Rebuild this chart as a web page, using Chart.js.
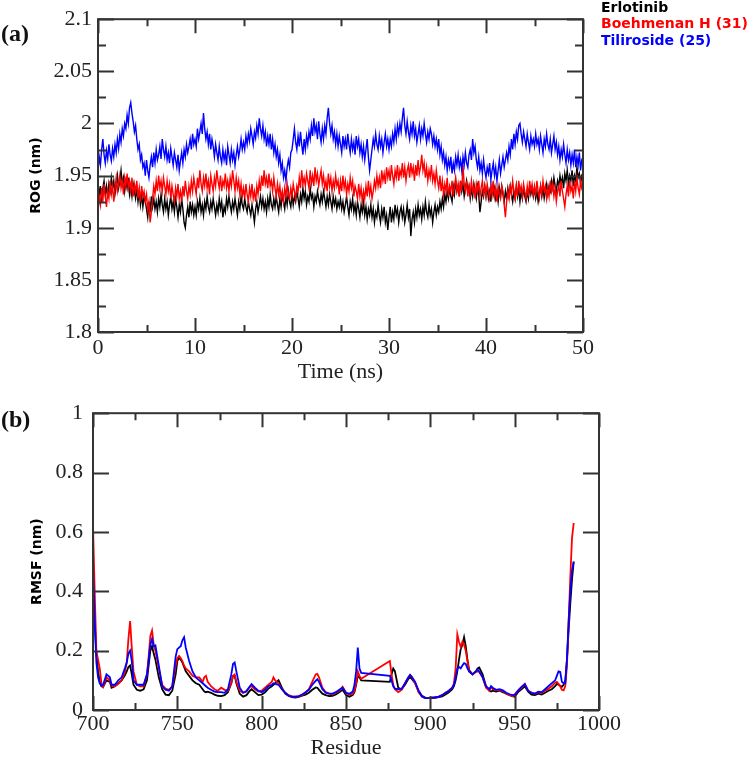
<!DOCTYPE html>
<html>
<head>
<meta charset="utf-8">
<script src="https://cdn.jsdelivr.net/npm/chart.js@4.4.1/dist/chart.umd.min.js"></script>
<style>
  html, body { margin: 0; padding: 0; background: #fff; }
  #wrap { position: relative; width: 754px; height: 758px; overflow: hidden; }
  canvas { position: absolute; left: 0; }
</style>
</head>
<body>
<div id="wrap">
  <canvas id="rogChart" width="754" height="390" style="top:0"></canvas>
  <canvas id="rmsfChart" width="754" height="380" style="top:390px"></canvas>
</div>
<script>
// serienamn och färger
const seriesNames = ['Erlotinib', 'Boehmenan H (31)', 'Tiliroside (25)'];
const seriesColors = ['#000000', '#ff0000', '#0000ff'];

// (a) ROG, ett värde var 0.125 ns från 0 till 50 ns (40 värden per 5 ns)
const rogErlotinib = [
  1.945, 1.93, 1.94, 1.925, 1.938, 1.945, 1.932, 1.94, 1.928, 1.942,
  1.935, 1.948, 1.938, 1.945, 1.932, 1.94, 1.95, 1.938, 1.945, 1.955,
  1.942, 1.948, 1.935, 1.945, 1.938, 1.948, 1.932, 1.94, 1.93, 1.942,
  1.935, 1.928, 1.938, 1.925, 1.935, 1.922, 1.932, 1.92, 1.93, 1.925,
  1.918, 1.91, 1.925, 1.915, 1.93, 1.92, 1.928, 1.918, 1.925, 1.915,
  1.928, 1.92, 1.932, 1.922, 1.915, 1.928, 1.918, 1.925, 1.912, 1.922,
  1.93, 1.918, 1.925, 1.915, 1.928, 1.92, 1.91, 1.922, 1.915, 1.928,
  1.918, 1.905, 1.9, 1.912, 1.92, 1.91, 1.925, 1.915, 1.922, 1.912,
  1.92, 1.912, 1.925, 1.918, 1.928, 1.915, 1.922, 1.912, 1.925, 1.918,
  1.93, 1.92, 1.915, 1.925, 1.918, 1.928, 1.92, 1.912, 1.922, 1.915,
  1.928, 1.918, 1.925, 1.91, 1.92, 1.915, 1.928, 1.92, 1.93, 1.922,
  1.915, 1.925, 1.918, 1.928, 1.92, 1.912, 1.925, 1.918, 1.93, 1.922,
  1.918, 1.928, 1.92, 1.915, 1.925, 1.918, 1.912, 1.922, 1.915, 1.905,
  1.918, 1.925, 1.915, 1.922, 1.93, 1.92, 1.928, 1.918, 1.925, 1.915,
  1.928, 1.92, 1.932, 1.922, 1.918, 1.928, 1.92, 1.93, 1.922, 1.915,
  1.928, 1.92, 1.932, 1.925, 1.918, 1.93, 1.922, 1.935, 1.925, 1.92,
  1.932, 1.922, 1.93, 1.925, 1.935, 1.928, 1.92, 1.932, 1.925, 1.938,
  1.928, 1.935, 1.922, 1.93, 1.925, 1.938, 1.928, 1.932, 1.92, 1.93,
  1.925, 1.935, 1.928, 1.922, 1.932, 1.925, 1.935, 1.928, 1.92, 1.93,
  1.922, 1.932, 1.925, 1.918, 1.93, 1.922, 1.928, 1.918, 1.925, 1.92,
  1.928, 1.918, 1.925, 1.915, 1.922, 1.93, 1.92, 1.912, 1.925, 1.918,
  1.928, 1.915, 1.922, 1.912, 1.925, 1.918, 1.91, 1.922, 1.915, 1.925,
  1.912, 1.92, 1.908, 1.918, 1.912, 1.922, 1.91, 1.918, 1.905, 1.915,
  1.91, 1.922, 1.912, 1.905, 1.918, 1.91, 1.92, 1.905, 1.912, 1.898,
  1.91, 1.92, 1.905, 1.915, 1.908, 1.922, 1.912, 1.918, 1.905, 1.915,
  1.92, 1.91, 1.918, 1.905, 1.912, 1.922, 1.91, 1.918, 1.892, 1.908,
  1.915, 1.905, 1.918, 1.91, 1.922, 1.912, 1.918, 1.908, 1.92, 1.912,
  1.925, 1.915, 1.91, 1.922, 1.912, 1.918, 1.905, 1.915, 1.922, 1.912,
  1.92, 1.915, 1.925, 1.918, 1.928, 1.92, 1.932, 1.925, 1.935, 1.928,
  1.938, 1.93, 1.925, 1.94, 1.932, 1.945, 1.935, 1.94, 1.93, 1.945,
  1.935, 1.942, 1.93, 1.938, 1.945, 1.935, 1.94, 1.928, 1.938, 1.93,
  1.942, 1.935, 1.928, 1.94, 1.932, 1.915, 1.925, 1.935, 1.93, 1.94,
  1.93, 1.938, 1.928, 1.935, 1.925, 1.94, 1.932, 1.938, 1.928, 1.935,
  1.925, 1.938, 1.93, 1.94, 1.932, 1.925, 1.935, 1.928, 1.938, 1.93,
  1.94, 1.932, 1.925, 1.935, 1.928, 1.94, 1.93, 1.938, 1.925, 1.935,
  1.928, 1.938, 1.93, 1.925, 1.935, 1.928, 1.94, 1.932, 1.938, 1.93,
  1.938, 1.928, 1.935, 1.925, 1.932, 1.94, 1.93, 1.938, 1.928, 1.935,
  1.942, 1.932, 1.94, 1.935, 1.945, 1.938, 1.948, 1.94, 1.935, 1.945,
  1.94, 1.95, 1.942, 1.948, 1.938, 1.952, 1.945, 1.955, 1.942, 1.95,
  1.945, 1.955, 1.94, 1.95, 1.945, 1.958, 1.948, 1.952, 1.942, 1.95,
  1.948
];
const rogBoehmenan = [
  1.915, 1.93, 1.922, 1.938, 1.925, 1.942, 1.93, 1.92, 1.935, 1.928,
  1.945, 1.932, 1.94, 1.925, 1.938, 1.948, 1.935, 1.942, 1.95, 1.938,
  1.945, 1.932, 1.948, 1.94, 1.952, 1.938, 1.945, 1.935, 1.948, 1.93,
  1.942, 1.935, 1.945, 1.928, 1.938, 1.925, 1.94, 1.93, 1.935, 1.925,
  1.932, 1.918, 1.925, 1.905, 1.915, 1.928, 1.94, 1.932, 1.945, 1.935,
  1.95, 1.938, 1.945, 1.935, 1.948, 1.94, 1.932, 1.945, 1.935, 1.942,
  1.928, 1.94, 1.932, 1.925, 1.938, 1.93, 1.942, 1.928, 1.935, 1.925,
  1.94, 1.93, 1.945, 1.935, 1.928, 1.94, 1.932, 1.945, 1.935, 1.948,
  1.94, 1.932, 1.948, 1.938, 1.955, 1.942, 1.935, 1.948, 1.94, 1.952,
  1.938, 1.945, 1.932, 1.95, 1.942, 1.935, 1.948, 1.94, 1.955, 1.945,
  1.938, 1.95, 1.935, 1.945, 1.94, 1.952, 1.938, 1.945, 1.935, 1.948,
  1.94, 1.955, 1.945, 1.935, 1.948, 1.938, 1.945, 1.932, 1.942, 1.93,
  1.938, 1.928, 1.942, 1.932, 1.925, 1.938, 1.93, 1.942, 1.928, 1.935,
  1.925, 1.94, 1.932, 1.945, 1.935, 1.95, 1.94, 1.955, 1.942, 1.948,
  1.938, 1.952, 1.94, 1.945, 1.935, 1.948, 1.938, 1.93, 1.942, 1.932,
  1.94, 1.928, 1.935, 1.925, 1.938, 1.93, 1.942, 1.932, 1.928, 1.938,
  1.93, 1.942, 1.935, 1.928, 1.94, 1.935, 1.948, 1.938, 1.955, 1.942,
  1.948, 1.94, 1.952, 1.945, 1.938, 1.955, 1.942, 1.95, 1.94, 1.958,
  1.945, 1.952, 1.94, 1.948, 1.955, 1.942, 1.95, 1.938, 1.945, 1.935,
  1.952, 1.94, 1.948, 1.935, 1.945, 1.938, 1.95, 1.94, 1.945, 1.932,
  1.945, 1.935, 1.95, 1.938, 1.945, 1.932, 1.942, 1.935, 1.948, 1.938,
  1.945, 1.93, 1.94, 1.935, 1.928, 1.942, 1.93, 1.938, 1.925, 1.935,
  1.928, 1.94, 1.93, 1.945, 1.932, 1.94, 1.928, 1.935, 1.945, 1.938,
  1.95, 1.94, 1.948, 1.938, 1.955, 1.945, 1.952, 1.942, 1.958, 1.948,
  1.955, 1.945, 1.96, 1.95, 1.942, 1.955, 1.948, 1.96, 1.945, 1.955,
  1.95, 1.962, 1.948, 1.958, 1.945, 1.955, 1.96, 1.948, 1.962, 1.952,
  1.958, 1.945, 1.96, 1.95, 1.965, 1.952, 1.958, 1.97, 1.955, 1.962,
  1.948, 1.958, 1.945, 1.955, 1.948, 1.96, 1.945, 1.952, 1.942, 1.955,
  1.945, 1.938, 1.95, 1.935, 1.945, 1.932, 1.942, 1.935, 1.948, 1.93,
  1.94, 1.935, 1.945, 1.93, 1.94, 1.948, 1.935, 1.942, 1.93, 1.945,
  1.935, 1.96, 1.942, 1.935, 1.945, 1.93, 1.94, 1.932, 1.945, 1.935,
  1.94, 1.928, 1.942, 1.935, 1.945, 1.93, 1.938, 1.945, 1.932, 1.94,
  1.93, 1.942, 1.935, 1.928, 1.94, 1.932, 1.945, 1.93, 1.938, 1.925,
  1.94, 1.932, 1.928, 1.94, 1.935, 1.922, 1.91, 1.925, 1.935, 1.928,
  1.942, 1.932, 1.945, 1.935, 1.928, 1.94, 1.93, 1.945, 1.935, 1.94,
  1.93, 1.942, 1.935, 1.928, 1.94, 1.93, 1.945, 1.935, 1.942, 1.932,
  1.94, 1.93, 1.945, 1.935, 1.928, 1.94, 1.932, 1.945, 1.935, 1.94,
  1.928, 1.938, 1.93, 1.945, 1.935, 1.942, 1.93, 1.938, 1.925, 1.935,
  1.94, 1.93, 1.945, 1.935, 1.928, 1.92, 1.932, 1.94, 1.93, 1.945,
  1.935, 1.94, 1.928, 1.945, 1.935, 1.948, 1.938, 1.932, 1.945, 1.938,
  1.942
];
const rogTiliroside = [
  1.955, 1.968, 1.96, 1.975, 1.985, 1.97, 1.962, 1.974, 1.966, 1.98,
  1.97, 1.964, 1.976, 1.968, 1.98, 1.972, 1.985, 1.976, 1.99, 1.982,
  1.995, 1.988, 2.0, 1.995, 2.008, 2.0, 2.015, 2.02, 2.01, 2.002,
  1.992, 1.998, 1.985, 1.975, 1.98, 1.965, 1.97, 1.958, 1.962, 1.95,
  1.965, 1.955, 1.948, 1.96, 1.968, 1.958, 1.972, 1.962, 1.975, 1.965,
  1.97, 1.978, 1.966, 1.985, 1.975, 1.968, 1.978, 1.965, 1.972, 1.962,
  1.976, 1.968, 1.96, 1.972, 1.965, 1.958, 1.97, 1.955, 1.964, 1.972,
  1.962, 1.975, 1.968, 1.98, 1.972, 1.978, 1.985, 1.975, 1.99, 1.98,
  1.985, 1.978, 1.995, 1.985, 1.992, 2.0, 1.99, 2.01, 1.995, 1.985,
  1.992, 1.98, 1.99, 1.975, 1.985, 1.978, 1.968, 1.98, 1.972, 1.965,
  1.978, 1.968, 1.962, 1.975, 1.965, 1.972, 1.96, 1.978, 1.97, 1.962,
  1.975, 1.965, 1.972, 1.96, 1.97, 1.978, 1.968, 1.975, 1.985, 1.975,
  1.982, 1.975, 1.988, 1.98, 1.99, 1.983, 1.995, 1.988, 1.98, 1.992,
  1.986, 1.998, 1.99, 2.005, 1.995, 1.988, 1.998, 1.985, 1.992, 1.978,
  1.988, 1.98, 1.99, 1.975, 1.985, 1.972, 1.98, 1.968, 1.975, 1.962,
  1.97, 1.955, 1.962, 1.948, 1.955, 1.945, 1.958, 1.965, 1.958, 1.972,
  1.975, 1.985, 1.995, 1.982, 1.975, 1.988, 1.978, 1.992, 1.98, 1.97,
  1.985, 1.975, 1.988, 1.98, 1.992, 1.985, 1.998, 1.988, 2.005, 1.992,
  1.998, 1.985, 2.002, 1.99, 1.982, 1.995, 1.985, 1.998, 1.99, 2.005,
  2.015, 2.0, 1.99, 1.998, 1.985, 1.992, 1.98, 1.99, 1.978, 1.988,
  1.98, 1.972, 1.988, 1.978, 1.985, 1.975, 1.99, 1.98, 1.972, 1.985,
  1.975, 1.982, 1.97, 1.988, 1.978, 1.985, 1.972, 1.98, 1.968, 1.978,
  1.965, 1.975, 1.985, 1.968, 1.955, 1.965, 1.975, 1.985, 1.978, 1.99,
  1.98, 1.975, 1.988, 1.978, 1.985, 1.972, 1.982, 1.99, 1.978, 1.985,
  1.975, 1.985, 1.978, 1.99, 1.982, 1.995, 1.985, 1.998, 1.99, 2.0,
  1.992, 2.005, 2.015, 1.998, 1.99, 2.002, 1.992, 1.985, 1.998, 1.99,
  2.002, 1.988, 1.995, 1.982, 1.99, 1.998, 1.985, 1.995, 1.988, 2.0,
  1.99, 1.982, 1.992, 1.985, 1.995, 1.99, 1.98, 1.988, 1.978, 1.985,
  1.975, 1.985, 1.97, 1.978, 1.965, 1.972, 1.96, 1.968, 1.955, 1.965,
  1.958, 1.968, 1.952, 1.962, 1.955, 1.968, 1.96, 1.97, 1.958, 1.965,
  1.955, 1.968, 1.96, 1.972, 1.962, 1.958, 1.97, 1.975, 1.965, 1.985,
  1.972, 1.978, 1.965, 1.958, 1.968, 1.955, 1.962, 1.952, 1.965, 1.955,
  1.948, 1.958, 1.952, 1.962, 1.946, 1.955, 1.962, 1.95, 1.958, 1.945,
  1.955, 1.965, 1.952, 1.96, 1.968, 1.958, 1.965, 1.972, 1.965, 1.978,
  1.97, 1.985, 1.975, 1.99, 1.98, 1.992, 1.985, 1.998, 2.0, 1.99,
  1.982, 1.992, 1.985, 1.978, 1.99, 1.982, 1.975, 1.988, 1.98, 1.985,
  1.978, 1.99, 1.98, 1.985, 1.975, 1.988, 1.98, 1.972, 1.985, 1.978,
  1.99, 1.98, 1.975, 1.985, 1.972, 1.98, 1.988, 1.975, 1.982, 1.97,
  1.978, 1.965, 1.975, 1.968, 1.98, 1.97, 1.962, 1.975, 1.965, 1.972,
  1.96, 1.97, 1.962, 1.975, 1.958, 1.968, 1.96, 1.972, 1.955, 1.965,
  1.968
];
const rogStep = 0.125; // ns mellan värdena
const rogTicks = [1.8, 1.85, 1.9, 1.95, 2, 2.05, 2.1];
const rogMinorTicks = [1.825, 1.875, 1.925, 1.975, 2.025, 2.075];
const timeTicks = [0, 10, 20, 30, 40, 50];
const timeMinorTicks = [5, 15, 25, 35, 45];

// (b) RMSF per residue (gap 859-876 saknas i strukturen)
const residues = [
  700, 701, 702, 703, 704, 705, 706, 708, 710, 711,
  713, 715, 717, 719, 720, 721, 722, 723, 724, 726,
  728, 730, 732, 733, 734, 735, 736, 737, 739, 741,
  743, 745, 747, 749, 750, 751, 752, 753, 754, 755,
  757, 759, 761, 763, 765, 766, 767, 768, 770, 772,
  774, 776, 778, 780, 782, 783, 784, 785, 787, 789,
  791, 793, 794, 796, 798, 800, 802, 804, 806, 807,
  808, 810, 812, 814, 816, 818, 820, 822, 824, 826,
  828, 830, 832, 833, 834, 836, 838, 840, 842, 844,
  846, 848, 850, 852, 854, 855, 856, 857, 858, 859,
  876, 877, 878, 879, 881, 883, 885, 887, 888, 889,
  891, 893, 895, 897, 899, 901, 903, 905, 907, 909,
  911, 913, 914, 915, 916, 917, 918, 919, 920, 921,
  922, 923, 925, 927, 928, 929, 931, 933, 935, 936,
  937, 939, 941, 943, 945, 947, 949, 950, 952, 954,
  956, 958, 960, 962, 964, 966, 968, 970, 972, 974,
  975, 976, 977, 978, 979, 980, 981, 982, 983, 984,
  985
];
const rmsfErlotinib = [
  0.46, 0.3, 0.19, 0.13, 0.095, 0.08, 0.078, 0.1, 0.095, 0.075,
  0.08, 0.09, 0.1, 0.118, 0.13, 0.145, 0.15, 0.12, 0.085, 0.068,
  0.065, 0.07, 0.1, 0.15, 0.2, 0.215, 0.19, 0.17, 0.11, 0.07,
  0.052, 0.05, 0.065, 0.12, 0.165, 0.175, 0.17, 0.16, 0.145, 0.13,
  0.115, 0.1, 0.09, 0.085, 0.07, 0.062, 0.06, 0.062, 0.058, 0.052,
  0.048, 0.047, 0.05, 0.06, 0.09, 0.115, 0.115, 0.09, 0.055, 0.045,
  0.05, 0.065, 0.07, 0.06, 0.05, 0.052, 0.06, 0.072, 0.08, 0.085,
  0.09, 0.1, 0.075, 0.055, 0.047, 0.043, 0.042, 0.044, 0.048, 0.052,
  0.058, 0.068, 0.076, 0.075, 0.068, 0.055, 0.05, 0.047, 0.048, 0.052,
  0.06, 0.068, 0.05, 0.045, 0.05, 0.06, 0.085, 0.115, 0.11, 0.1,
  0.095, 0.12, 0.14, 0.13, 0.075, 0.07, 0.085, 0.105, 0.11, 0.105,
  0.09, 0.065, 0.048, 0.042, 0.04, 0.04, 0.041, 0.043, 0.046, 0.052,
  0.06, 0.07, 0.08, 0.1, 0.13, 0.17, 0.205, 0.22, 0.245, 0.215,
  0.17, 0.135, 0.12, 0.13, 0.14, 0.143, 0.12, 0.08, 0.065, 0.062,
  0.065, 0.062, 0.065, 0.06, 0.055, 0.05, 0.046, 0.045, 0.06, 0.07,
  0.08, 0.062, 0.052, 0.05, 0.055, 0.052, 0.058, 0.065, 0.07, 0.08,
  0.088, 0.085, 0.082, 0.078, 0.085, 0.1, 0.17, 0.27, 0.36, 0.44,
  0.5
];
const rmsfBoehmenan = [
  0.62, 0.4, 0.2, 0.17, 0.14, 0.09, 0.078, 0.11, 0.1, 0.082,
  0.08, 0.088, 0.1, 0.13, 0.16, 0.24, 0.3, 0.21, 0.13, 0.085,
  0.08, 0.08, 0.12, 0.18, 0.25, 0.268, 0.22, 0.2, 0.14, 0.085,
  0.072, 0.068, 0.08, 0.15, 0.175, 0.182, 0.175, 0.165, 0.15, 0.14,
  0.13, 0.115, 0.11, 0.11, 0.095, 0.11, 0.115, 0.095, 0.08, 0.07,
  0.065, 0.075, 0.068, 0.065, 0.09, 0.115, 0.12, 0.095, 0.065, 0.058,
  0.065, 0.078, 0.08, 0.07, 0.062, 0.065, 0.075, 0.085, 0.095, 0.11,
  0.1, 0.09, 0.07, 0.058, 0.05, 0.046, 0.045, 0.046, 0.05, 0.058,
  0.07, 0.095, 0.12, 0.122, 0.11, 0.075, 0.06, 0.055, 0.052, 0.058,
  0.065, 0.078, 0.058, 0.052, 0.055, 0.065, 0.09, 0.13, 0.115, 0.105,
  0.165, 0.12, 0.085, 0.07, 0.06, 0.068, 0.09, 0.11, 0.118, 0.112,
  0.09, 0.06, 0.045, 0.04, 0.04, 0.042, 0.043, 0.045, 0.05, 0.058,
  0.065, 0.075, 0.09, 0.14, 0.255, 0.23, 0.212, 0.23, 0.22, 0.2,
  0.165, 0.13, 0.12, 0.128, 0.13, 0.128, 0.11, 0.075, 0.065, 0.078,
  0.07, 0.068, 0.066, 0.064, 0.055, 0.05, 0.046, 0.05, 0.065, 0.075,
  0.088, 0.065, 0.058, 0.055, 0.06, 0.058, 0.065, 0.072, 0.08, 0.092,
  0.095, 0.088, 0.08, 0.068, 0.066, 0.08, 0.15, 0.3, 0.45, 0.58,
  0.63
];
const rmsfTiliroside = [
  0.48, 0.3, 0.16, 0.11, 0.09, 0.082, 0.085, 0.12, 0.11, 0.085,
  0.085, 0.1, 0.11, 0.142, 0.16, 0.19, 0.2, 0.165, 0.1, 0.085,
  0.085, 0.085, 0.12, 0.17, 0.22, 0.24, 0.215, 0.218, 0.15, 0.08,
  0.068, 0.065, 0.08, 0.18, 0.205, 0.21, 0.215, 0.235, 0.245, 0.21,
  0.165, 0.13, 0.11, 0.1, 0.09, 0.085, 0.08, 0.075, 0.068, 0.062,
  0.06, 0.06, 0.058, 0.07, 0.12, 0.155, 0.16, 0.13, 0.075, 0.058,
  0.062, 0.08, 0.087, 0.075, 0.065, 0.06, 0.068, 0.08, 0.085, 0.09,
  0.088, 0.085, 0.07, 0.058, 0.048, 0.045, 0.045, 0.047, 0.052, 0.06,
  0.068, 0.085, 0.098, 0.104, 0.095, 0.07, 0.058, 0.055, 0.055, 0.06,
  0.068, 0.075, 0.058, 0.055, 0.062, 0.085, 0.13, 0.21, 0.14, 0.125,
  0.115, 0.1, 0.08, 0.072, 0.07, 0.072, 0.09, 0.11, 0.118, 0.112,
  0.095, 0.065, 0.045, 0.04, 0.04, 0.042, 0.043, 0.045, 0.05, 0.058,
  0.065, 0.075, 0.085, 0.11, 0.14, 0.145, 0.14, 0.15, 0.158, 0.155,
  0.14, 0.13, 0.12, 0.13, 0.137, 0.13, 0.11, 0.08, 0.07, 0.08,
  0.075, 0.068, 0.07, 0.066, 0.058, 0.053, 0.05, 0.052, 0.065, 0.078,
  0.087, 0.065, 0.058, 0.055, 0.062, 0.06, 0.07, 0.08, 0.09, 0.1,
  0.115, 0.13, 0.128, 0.095, 0.09, 0.09, 0.17, 0.3, 0.4, 0.47,
  0.5
];
const rmsfTicks = [0, 0.2, 0.4, 0.6, 0.8, 1];
const residueTicks = [700, 750, 800, 850, 900, 950, 1000];
const residueMinorTicks = [725, 775, 825, 875, 925, 975];

const axisColor = '#333333';
const serif = "'Liberation Serif', 'Times New Roman', serif";
const sans = "'DejaVu Sans', sans-serif";

// ram runt plottytan och inåtvända tick-streck på alla fyra sidor
function frameTicks(opts) {
  return {
    id: 'frameTicks',
    afterDraw(chart) {
      const ctx = chart.ctx;
      const a = chart.chartArea;
      const x = chart.scales.x, y = chart.scales.y;
      ctx.save();
      ctx.strokeStyle = axisColor;
      ctx.lineWidth = 2;
      ctx.strokeRect(a.left, a.top, a.right - a.left, a.bottom - a.top);
      ctx.beginPath();
      const xt = (vals, len) => vals.forEach(v => {
        const px = Math.round(x.getPixelForValue(v)) + 0.5;
        ctx.moveTo(px, a.bottom); ctx.lineTo(px, a.bottom - len);
        ctx.moveTo(px, a.top); ctx.lineTo(px, a.top + len);
      });
      const yt = (vals, len) => vals.forEach(v => {
        const py = Math.round(y.getPixelForValue(v)) + 0.5;
        ctx.moveTo(a.left, py); ctx.lineTo(a.left + len, py);
        ctx.moveTo(a.right, py); ctx.lineTo(a.right - len, py);
      });
      xt(opts.xMajor, 14); xt(opts.xMinor, 7);
      yt(opts.yMajor, 16); yt(opts.yMinor, 8);
      ctx.stroke();

      // panel-bokstav
      ctx.fillStyle = '#111';
      ctx.font = 'bold 24px ' + serif;
      ctx.textBaseline = 'middle';
      ctx.textAlign = 'left';
      ctx.fillText(opts.panel, 1, opts.panelY);

      // legend som färgad text
      if (opts.legend) {
        ctx.font = 'bold 14px ' + sans;
        chart.data.datasets.forEach((ds, i) => {
          ctx.fillStyle = ds.borderColor;
          ctx.fillText(ds.label, 601, 8 + i * 16.5);
        });
      }
      ctx.restore();
    }
  };
}

function makeDatasets(xs, seriesList, width) {
  return seriesList.map((vals, i) => ({
    label: seriesNames[i],
    data: vals.map((v, j) => ({ x: xs[j], y: v })),
    borderColor: seriesColors[i],
    borderWidth: width,
    pointRadius: 0,
    tension: 0,
    fill: false,
    order: 3 - i
  }));
}

const tickFont = { family: serif, size: 22 };
const titleFontSans = { family: sans, size: 14, weight: 'bold' };

// (a) ROG mot tid
const rogTimes = rogErlotinib.map((_, i) => i * rogStep);
new Chart(document.getElementById('rogChart'), {
  type: 'line',
  data: { datasets: makeDatasets(rogTimes, [rogErlotinib, rogBoehmenan, rogTiliroside], 1.4) },
  options: {
    responsive: false,
    animation: false,
    events: [],
    layout: { padding: { top: 19, right: 171, left: 0, bottom: 0 } },
    plugins: { legend: { display: false }, tooltip: { enabled: false } },
    scales: {
      x: {
        type: 'linear', min: 0, max: 50,
        afterBuildTicks: s => { s.ticks = timeTicks.map(v => ({ value: v })); },
        afterFit: s => { s.height = 58; },
        grid: { display: false, drawTicks: false }, border: { display: false },
        ticks: { font: tickFont, color: '#222', padding: 3, maxRotation: 0, autoSkip: false, callback: v => String(v) },
        title: { display: true, text: 'Time (ns)', font: { family: serif, size: 22 }, color: '#222', padding: { top: 0, bottom: 5 } }
      },
      y: {
        type: 'linear', min: 1.8, max: 2.1,
        afterBuildTicks: s => { s.ticks = rogTicks.map(v => ({ value: v })); },
        afterFit: s => { s.width = 98; },
        grid: { display: false, drawTicks: false }, border: { display: false },
        ticks: { font: tickFont, color: '#222', padding: 6, autoSkip: false, callback: v => String(v) },
        title: { display: true, text: 'ROG (nm)', font: titleFontSans, color: '#000', padding: { top: 28, bottom: 0 } }
      }
    }
  },
  plugins: [frameTicks({ xMajor: timeTicks, xMinor: timeMinorTicks, yMajor: rogTicks, yMinor: rogMinorTicks, panel: '(a)', panelY: 35, legend: true })]
});

// (b) RMSF mot residue
new Chart(document.getElementById('rmsfChart'), {
  type: 'line',
  data: { datasets: makeDatasets(residues, [rmsfErlotinib, rmsfBoehmenan, rmsfTiliroside], 1.8) },
  options: {
    responsive: false,
    animation: false,
    events: [],
    layout: { padding: { top: 15, right: 155, left: 0, bottom: 0 } },
    plugins: { legend: { display: false }, tooltip: { enabled: false } },
    scales: {
      x: {
        type: 'linear', min: 700, max: 1000,
        afterBuildTicks: s => { s.ticks = residueTicks.map(v => ({ value: v })); },
        afterFit: s => { s.height = 60; },
        grid: { display: false, drawTicks: false }, border: { display: false },
        ticks: { font: tickFont, color: '#222', padding: 1, maxRotation: 0, autoSkip: false, callback: v => String(v) },
        title: { display: true, text: 'Residue', font: { family: serif, size: 22 }, color: '#222', padding: { top: 0, bottom: 9 } }
      },
      y: {
        type: 'linear', min: 0, max: 1,
        afterBuildTicks: s => { s.ticks = rmsfTicks.map(v => ({ value: v })); },
        afterFit: s => { s.width = 93; },
        grid: { display: false, drawTicks: false }, border: { display: false },
        ticks: { font: tickFont, color: '#222', padding: 10, autoSkip: false, callback: v => String(v) },
        title: { display: true, text: 'RMSF (nm)', font: titleFontSans, color: '#000', padding: { top: 29, bottom: 0 } }
      }
    }
  },
  plugins: [frameTicks({ xMajor: residueTicks, xMinor: residueMinorTicks, yMajor: rmsfTicks, yMinor: [], panel: '(b)', panelY: 31, legend: false })]
});
</script>
</body>
</html>
